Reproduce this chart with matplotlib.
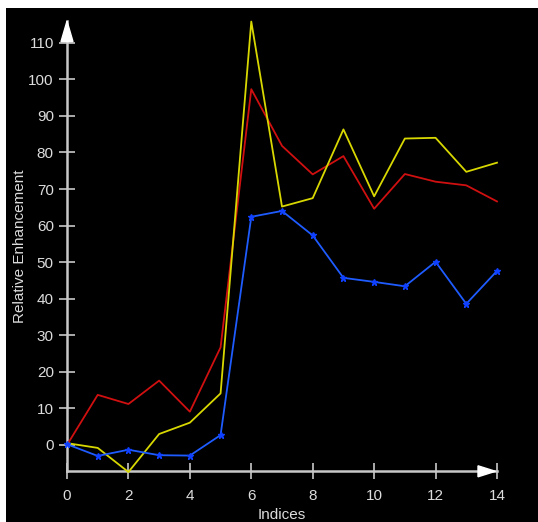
import matplotlib.pyplot as plt
from matplotlib.patches import Polygon, Rectangle

plt.rcParams['font.family'] = ['Liberation Sans', 'DejaVu Sans']

indices = list(range(15))
red = [0, 13.7, 11.2, 17.6, 9.1, 26.7, 97.3, 81.8, 74.0, 79.0, 64.6, 74.1, 72.0, 71.0, 66.6]
yellow = [0.5, -0.8, -7.4, 3.0, 6.1, 14.1, 115.8, 65.2, 67.5, 86.3, 68.0, 83.8, 84.0, 74.7, 77.2]
blue = [0.2, -3.0, -1.3, -2.8, -2.9, 2.7, 62.4, 64.0, 57.3, 45.7, 44.6, 43.4, 50.1, 38.6, 47.6]
xticks = [0, 2, 4, 6, 8, 10, 12, 14]
yticks = [0, 10, 20, 30, 40, 50, 60, 70, 80, 90, 100, 110]

W, H = 538, 522
fig = plt.figure(figsize=(W / 100, H / 100), dpi=100)
fig.patch.set_facecolor('white')
# black panel with white border on top/left
fig.patches.append(Rectangle((6 / W, 0), 1, 1 - 8 / H, transform=fig.transFigure,
                             facecolor='black', edgecolor='none', zorder=-1))

ymin, ymax = -7.2, 116
ax = fig.add_axes([67 / W, (H - 471.3) / H, 430 / W, (471.3 - 20.8) / H])
ax.set_facecolor('none')
ax.set_xlim(0, 14)
ax.set_ylim(ymin, ymax)

gray = '#c8c8c8'
for s in ['top', 'right']:
    ax.spines[s].set_visible(False)
for s in ['left', 'bottom']:
    ax.spines[s].set_color(gray)
    ax.spines[s].set_linewidth(1.8)

ax.plot(indices, red, color='#d01010', lw=1.3, clip_on=False, zorder=3)
ax.plot(indices, yellow, color='#d8d800', lw=1.3, clip_on=False, zorder=3)
ax.plot(indices, blue, color='#1f5cff', lw=1.3, marker='*', ms=5,
        mec='#1040ff', mfc='#1040ff', clip_on=False, zorder=4)

ax.set_xticks(xticks)
ax.set_yticks(yticks)
ax.tick_params(direction='inout', length=11, width=1.2, color=gray,
               labelcolor='#dcdcdc', labelsize=11)
ax.tick_params(axis='y', pad=4)
ax.tick_params(axis='x', pad=7)

# arrow heads
px = 14 / 430
py = (ymax - ymin) / (471.3 - 20.8)
ax.add_patch(Polygon([(-6 * px, 110.3), (6 * px, 110.3), (0, 115.9)], closed=True,
                     facecolor='white', edgecolor='white', clip_on=False, zorder=5))
ax.add_patch(Polygon([(14 - 19 * px, ymin + 5.5 * py), (14 - 19 * px, ymin - 5.5 * py),
                      (14 - 1.5 * px, ymin)], closed=True,
                     facecolor='white', edgecolor='white', clip_on=False, zorder=5))

ax.set_xlabel('Indices', color='#dcdcdc', fontsize=11, labelpad=4)
ax.set_ylabel('Relative Enhancement', color='#dcdcdc', fontsize=11, labelpad=1)

fig.savefig('out.png', dpi=100, facecolor=fig.get_facecolor())
